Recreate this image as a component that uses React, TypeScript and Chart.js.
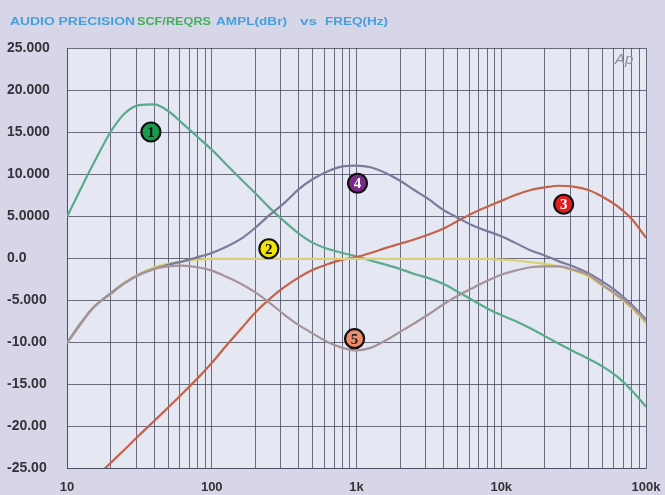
import React, { useEffect, useRef } from 'react';
import { Chart, registerables } from 'chart.js';
Chart.register(...registerables);

// ---------- DATA ----------
const freqs = [10, 12.5, 15, 20, 25, 31.5, 40, 50, 63, 80, 100, 125, 160, 200, 250, 315, 400, 500, 630, 800, 1000, 1250, 1600, 2000, 2500, 3150, 4000, 5000, 6300, 8000, 10000, 12500, 16000, 20000, 25000, 31500, 40000, 50000, 63000, 80000, 100000];

const curve1 = [4.9, 8.3, 11.0, 15.0, 17.2, 18.2, 18.3, 17.5, 16.0, 14.4, 12.9, 11.2, 9.35, 7.7, 6.0, 4.4, 2.9, 1.8, 1.1, 0.6, 0.2, -0.3, -0.8, -1.3, -1.9, -2.4, -3.1, -4.0, -5.0, -6.0, -6.8, -7.5, -8.4, -9.3, -10.2, -11.1, -12.0, -12.9, -14.1, -15.8, -17.7];
const curve2 = [-10.1, -7.8, -6.0, -4.2, -2.9, -1.9, -1.1, -0.7, -0.4, -0.2, -0.1, -0.1, -0.1, -0.1, -0.1, -0.1, -0.1, -0.1, -0.1, -0.1, -0.1, -0.1, -0.1, -0.1, -0.1, -0.1, -0.1, -0.1, -0.1, -0.1, -0.2, -0.3, -0.5, -0.7, -1.0, -1.5, -2.2, -3.3, -4.5, -6.0, -7.8];
const curve3 = [null, null, -26.5, -24.4, -22.8, -21.1, -19.4, -17.8, -16.1, -14.3, -12.5, -10.5, -8.4, -6.5, -4.9, -3.5, -2.3, -1.4, -0.75, -0.2, 0.1, 0.6, 1.2, 1.7, 2.2, 2.8, 3.5, 4.4, 5.3, 6.1, 6.8, 7.5, 8.1, 8.4, 8.6, 8.5, 8.1, 7.3, 6.2, 4.6, 2.4];
const curve4 = [-10.1, -7.7, -6.0, -4.2, -3.0, -2.0, -1.3, -0.8, -0.4, 0.1, 0.6, 1.3, 2.3, 3.6, 5.1, 6.5, 8.2, 9.4, 10.3, 10.9, 11.0, 10.8, 10.1, 9.2, 8.1, 7.0, 5.7, 4.8, 3.9, 3.2, 2.6, 1.8, 0.9, 0.3, -0.4, -1.0, -1.8, -2.8, -4.0, -5.6, -7.3];
const curve5 = [-10.1, -7.8, -6.0, -4.3, -3.0, -2.0, -1.3, -1.0, -0.9, -1.1, -1.5, -2.2, -3.1, -4.1, -5.3, -6.7, -8.0, -9.0, -10.0, -10.7, -11.0, -10.7, -9.8, -8.8, -7.8, -6.7, -5.5, -4.5, -3.6, -2.7, -2.0, -1.5, -1.1, -1.0, -1.0, -1.4, -2.0, -3.2, -4.4, -5.8, -7.5];

const seriesColors = ['#5aaa8c', '#d8d274', '#c4624a', '#7c7a9c', '#a69498'];

const xGridFreqs = [10, 20, 30, 40, 50, 60, 70, 80, 90, 100, 200, 300, 400, 500, 600, 700, 800, 900, 1000, 2000, 3000, 4000, 5000, 6000, 7000, 8000, 9000, 10000, 20000, 30000, 40000, 50000, 60000, 70000, 80000, 90000, 100000];
const xTickValues = [10, 100, 1000, 10000, 100000];
const xTickLabels = ['10', '100', '1k', '10k', '100k'];
const yTickValues = [25, 20, 15, 10, 5, 0, -5, -10, -15, -20, -25];
const yTickLabels = ['25.000', '20.000', '15.000', '10.000', '5.0000', '0.0', '-5.000', '-10.00', '-15.00', '-20.00', '-25.00'];

const markerLabels = ['1', '2', '3', '4', '5'];
const markerFreqs = [38, 248, 27000, 1017, 970];
const markerDb = [15.0, 1.1, 6.4, 8.9, -9.6];
const markerFills = ['#1a9a4c', '#f2e600', '#e01c1c', '#7a2a8a', '#f08c6c'];
const markerTextColors = ['#111111', '#111111', '#ffffff', '#ffffff', '#222222'];

const titleParts = ['AUDIO PRECISION', 'SCF/REQRS', 'AMPL(dBr)', 'vs', 'FREQ(Hz)'];
const titleColors = ['#46a0dc', '#44b05c', '#46a0dc', '#46a0dc', '#46a0dc'];
// layout of the title pieces: [start x, width]
const titleLayout = [[10, 125], [137, 74], [216, 71], [300, 17], [325, 63]];

const toPoints = (vals: (number | null)[]) => freqs.map((f, i) => ({ x: f, y: vals[i] }));

const decor = {
  id: 'decor',
  beforeDraw(chart: any) {
    const { ctx, chartArea, width, height } = chart;
    ctx.save();
    ctx.fillStyle = '#d6d6e8';
    ctx.fillRect(0, 0, width, height);
    ctx.fillStyle = '#e5e7f2';
    ctx.fillRect(chartArea.left, chartArea.top, chartArea.right - chartArea.left, chartArea.bottom - chartArea.top);
    ctx.restore();
  },
  afterDatasetsDraw(chart: any) {
    const { ctx, scales } = chart;
    ctx.save();
    // Ap logo
    ctx.font = 'italic 15px "Liberation Sans", Arial, sans-serif';
    ctx.fillStyle = '#8e8ea2';
    ctx.textAlign = 'left';
    ctx.textBaseline = 'middle';
    ctx.fillText('Ap', 615, 60);
    // markers
    markerLabels.forEach((lab, i) => {
      const x = scales.x.getPixelForValue(markerFreqs[i]);
      const y = scales.y.getPixelForValue(markerDb[i]);
      ctx.beginPath();
      ctx.arc(x, y, 9.5, 0, Math.PI * 2);
      ctx.fillStyle = markerFills[i];
      ctx.fill();
      ctx.lineWidth = 2.2;
      ctx.strokeStyle = '#111111';
      ctx.stroke();
      ctx.fillStyle = markerTextColors[i];
      ctx.font = 'bold 15px "Liberation Serif", "DejaVu Serif", serif';
      ctx.textAlign = 'center';
      ctx.textBaseline = 'middle';
      ctx.fillText(lab, x, y + 1);
    });
    ctx.restore();
  },
  afterDraw(chart: any) {
    const { ctx } = chart;
    ctx.save();
    ctx.font = 'bold 10px "Liberation Sans", Arial, sans-serif';
    ctx.textBaseline = 'middle';
    ctx.textAlign = 'left';
    titleParts.forEach((t, i) => {
      const [x0, w] = titleLayout[i];
      const mw = ctx.measureText(t).width;
      ctx.save();
      ctx.translate(x0, 22);
      ctx.scale(w / mw, 1);
      ctx.fillStyle = titleColors[i];
      ctx.fillText(t, 0, 0);
      ctx.restore();
    });
    ctx.restore();
  },
};

export default function App() {
  const ref = useRef<HTMLCanvasElement | null>(null);
  useEffect(() => {
    document.body.style.margin = '0';
    if (!ref.current) return;
    const gridColor = 'rgba(72,72,92,0.78)';
    const chart = new Chart(ref.current, {
      type: 'line',
      data: {
        datasets: [
          { label: '5', data: toPoints(curve5), borderColor: seriesColors[4] },
          { label: '4', data: toPoints(curve4), borderColor: seriesColors[3] },
          { label: '2', data: toPoints(curve2), borderColor: seriesColors[1] },
          { label: '3', data: toPoints(curve3), borderColor: seriesColors[2] },
          { label: '1', data: toPoints(curve1), borderColor: seriesColors[0] },
        ].map((d) => ({ ...d, borderWidth: 2.2, pointRadius: 0, cubicInterpolationMode: 'monotone', fill: false, spanGaps: false })),
      },
      options: {
        animation: false,
        responsive: true,
        maintainAspectRatio: false,
        layout: { padding: { left: 7, right: 19, top: 48, bottom: 0 } },
        plugins: { legend: { display: false }, tooltip: { enabled: false }, title: { display: false } },
        scales: {
          x: {
            type: 'logarithmic',
            min: 10,
            max: 100000,
            afterBuildTicks: (scale: any) => {
              scale.ticks = xGridFreqs.map((v) => ({ value: v }));
            },
            afterFit: (scale: any) => {
              scale.height = 27;
              scale.paddingRight = 0;
              scale.paddingLeft = 0;
            },
            ticks: {
              autoSkip: false,
              maxRotation: 0,
              padding: 12,
              color: '#333338',
              font: { family: '"Liberation Sans", Arial, sans-serif', size: 13, weight: 'bold' },
              callback: (value: any) => {
                const idx = xTickValues.indexOf(Number(value));
                return idx >= 0 ? xTickLabels[idx] : '';
              },
            },
            grid: { color: gridColor, lineWidth: 1, drawTicks: false },
            border: { color: gridColor },
          },
          y: {
            type: 'linear',
            min: -25,
            max: 25,
            afterBuildTicks: (scale: any) => {
              scale.ticks = yTickValues.map((v) => ({ value: v }));
            },
            afterFit: (scale: any) => {
              scale.width = 60;
              scale.paddingTop = 0;
              scale.paddingBottom = 0;
            },
            ticks: {
              crossAlign: 'far',
              color: '#333338',
              font: { family: '"Liberation Sans", Arial, sans-serif', size: 14, weight: 'bold' },
              callback: (value: any) => {
                const idx = yTickValues.indexOf(Number(value));
                return idx >= 0 ? yTickLabels[idx] : '';
              },
            },
            grid: { color: gridColor, lineWidth: 1, drawTicks: false },
            border: { color: gridColor },
          },
        },
      },
      plugins: [decor],
    } as any);
    return () => chart.destroy();
  }, []);
  return (
    <div style={{ width: 665, height: 495, position: 'relative' }}>
      <canvas ref={ref} />
    </div>
  );
}
